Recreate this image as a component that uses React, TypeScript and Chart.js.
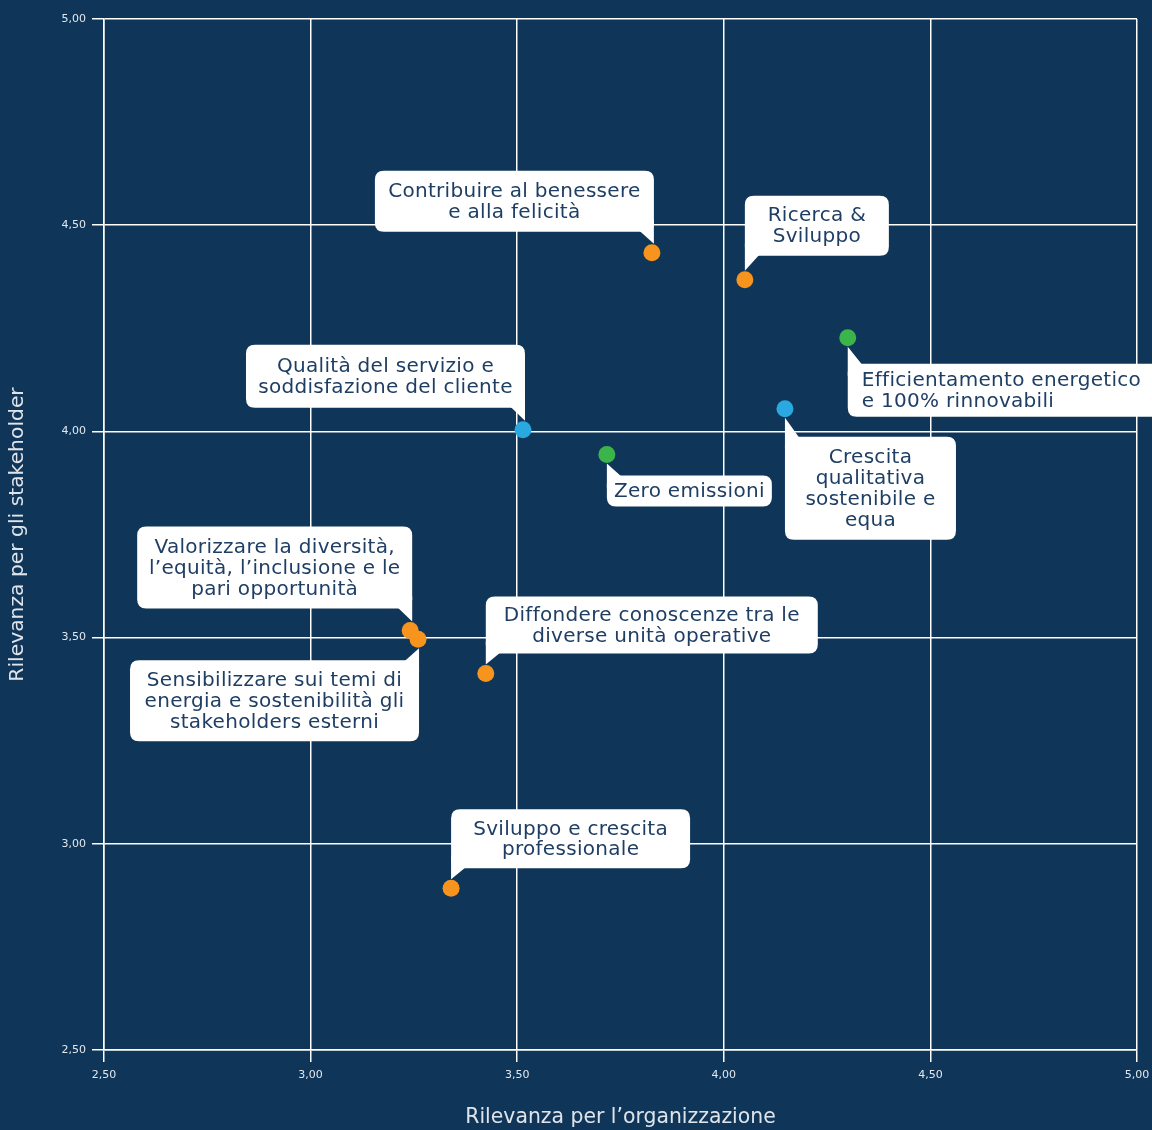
import React, { useEffect, useRef } from "react";
import { Chart, registerables } from "chart.js";

Chart.register(...registerables);

// ---- data ----
const topics = [
  "Contribuire al benessere e alla felicità",
  "Ricerca & Sviluppo",
  "Efficientamento energetico e 100% rinnovabili",
  "Crescita qualitativa sostenibile e equa",
  "Qualità del servizio e soddisfazione del cliente",
  "Zero emissioni",
  "Valorizzare la diversità, l'equità, l'inclusione e le pari opportunità",
  "Sensibilizzare sui temi di energia e sostenibilità gli stakeholders esterni",
  "Diffondere conoscenze tra le diverse unità operative",
  "Sviluppo e crescita professionale",
];
const orgRelevance = [3.826, 4.051, 4.3, 4.148, 3.514, 3.717, 3.241, 3.26, 3.424, 3.34];
const stakeholderRelevance = [4.433, 4.368, 4.227, 4.055, 4.004, 3.944, 3.517, 3.496, 3.413, 2.892];
const groups = ["social", "social", "environment", "economic", "economic", "environment", "social", "social", "social", "social"];
const groupNames = ["social", "environment", "economic"];
const labelLines = [
  ["Contribuire al benessere", "e alla felicità"],
  ["Ricerca &", "Sviluppo"],
  ["Efficientamento energetico", "e 100% rinnovabili"],
  ["Crescita", "qualitativa", "sostenibile e", "equa"],
  ["Qualità del servizio e", "soddisfazione del cliente"],
  ["Zero emissioni"],
  ["Valorizzare la diversità,", "l\u2019equità, l\u2019inclusione e le", "pari opportunità"],
  ["Sensibilizzare sui temi di", "energia e sostenibilità gli", "stakeholders esterni"],
  ["Diffondere conoscenze tra le", "diverse unità operative"],
  ["Sviluppo e crescita", "professionale"],
];
const axisTickValues = [2.5, 3.0, 3.5, 4.0, 4.5, 5.0];
const xTitle = "Rilevanza per l\u2019organizzazione";
const yTitle = "Rilevanza per gli stakeholder";

// ---- styles / callout layout ----
const groupColors: Record<string, string> = {
  social: "#f7941d",
  environment: "#3bb54a",
  economic: "#29a9e0",
};
// corner of the box where the tail sits, box width, box height, gap from point centre to box edge, text alignment
const calloutLayout: [string, number, number, number, string][] = [
  ["br", 279, 61, 21, "center"],
  ["bl", 144, 60, 24, "center"],
  ["tl", 330, 53, 26, "left"],
  ["tl", 171, 103, 28, "center"],
  ["br", 279, 63, 22, "center"],
  ["tl", 165, 31, 21, "center"],
  ["br", 275, 82, 22, "center"],
  ["tr", 289, 81, 21, "center"],
  ["bl", 332, 57, 20, "center"],
  ["bl", 239, 59, 20, "center"],
];
const cornerOffsetX: Record<string, number> = { br: 2, bl: 0, tl: 0, tr: 1 };

const BG = "#0f3559";
const FONT = "'DejaVu Sans', sans-serif";

const fmt = (v: number) => v.toFixed(2).replace(".", ",");

function roundRect(ctx: CanvasRenderingContext2D, x: number, y: number, w: number, h: number, r: number) {
  ctx.beginPath();
  ctx.moveTo(x + r, y);
  ctx.lineTo(x + w - r, y);
  ctx.quadraticCurveTo(x + w, y, x + w, y + r);
  ctx.lineTo(x + w, y + h - r);
  ctx.quadraticCurveTo(x + w, y + h, x + w - r, y + h);
  ctx.lineTo(x + r, y + h);
  ctx.quadraticCurveTo(x, y + h, x, y + h - r);
  ctx.lineTo(x, y + r);
  ctx.quadraticCurveTo(x, y, x + r, y);
  ctx.closePath();
}

const calloutPlugin = {
  id: "callouts",
  afterDatasetsDraw(chart: any) {
    const ctx: any = chart.ctx;
    const xs = chart.scales.x;
    const ys = chart.scales.y;
    ctx.save();
    topics.forEach((_, i) => {
      const px = xs.getPixelForValue(orgRelevance[i]);
      const py = ys.getPixelForValue(stakeholderRelevance[i]);
      const [corner, w, h, gap, align] = calloutLayout[i];
      const dx = cornerOffsetX[corner];
      const above = corner[0] === "b";
      const right = corner[1] === "r";
      const cx = px + dx; // x of the tail's vertical edge
      const bx = right ? cx - w : cx;
      const by = above ? py - gap - h : py + gap;
      const tipY = above ? py - 9 : py + 9;
      const edgeY = above ? by + h : by;
      ctx.fillStyle = "#ffffff";
      roundRect(ctx, bx, by, w, h, 9);
      ctx.fill();
      // tail
      ctx.beginPath();
      const inner = above ? edgeY - 12 : edgeY + 12;
      const baseX = right ? cx - 14 : cx + 14;
      ctx.moveTo(cx, inner);
      ctx.lineTo(cx, tipY);
      ctx.lineTo(baseX, edgeY + (above ? -0.5 : 0.5));
      ctx.lineTo(baseX + (right ? -2 : 2), inner);
      ctx.closePath();
      ctx.fill();
      // text
      const lines = labelLines[i];
      const lh = 20.8;
      ctx.fillStyle = "#1f3e64";
      ctx.font = `20px ${FONT}`;
      if ("letterSpacing" in ctx) ctx.letterSpacing = "0.3px";
      ctx.textBaseline = "middle";
      const startY = by + h / 2 - ((lines.length - 1) * lh) / 2 + 1;
      lines.forEach((ln, k) => {
        if (align === "left") {
          ctx.textAlign = "left";
          ctx.fillText(ln, bx + 14, startY + k * lh);
        } else {
          ctx.textAlign = "center";
          ctx.fillText(ln, bx + w / 2, startY + k * lh);
        }
      });
      if ("letterSpacing" in ctx) ctx.letterSpacing = "0px";
    });
    ctx.restore();
  },
};

const bgPlugin = {
  id: "bg",
  beforeDraw(chart: any) {
    const ctx = chart.ctx;
    ctx.save();
    ctx.fillStyle = BG;
    ctx.fillRect(0, 0, chart.width, chart.height);
    ctx.restore();
  },
};

export default function App() {
  const ref = useRef<HTMLCanvasElement | null>(null);
  useEffect(() => {
    if (!ref.current) return;
    const datasets = groupNames.map((g) => ({
      label: g,
      data: topics
        .map((_, i) => ({ x: orgRelevance[i], y: stakeholderRelevance[i], g: groups[i] }))
        .filter((p) => p.g === g),
      backgroundColor: groupColors[g],
      borderWidth: 0,
      pointRadius: 8.5,
      pointHoverRadius: 8.5,
    }));
    const chart = new Chart(ref.current, {
      type: "scatter",
      data: { datasets },
      plugins: [bgPlugin, calloutPlugin],
      options: {
        responsive: false,
        animation: false,
        layout: { padding: { top: 19, right: 15, left: 0, bottom: 0 } },
        plugins: { legend: { display: false }, tooltip: { enabled: false } },
        scales: {
          x: {
            type: "linear",
            min: 2.5,
            max: 5,
            afterBuildTicks: (s: any) => {
              s.ticks = axisTickValues.map((v) => ({ value: v }));
            },
            afterFit: (s: any) => {
              s.height = 80;
              s.paddingLeft = 0;
              s.paddingRight = 0;
            },
            ticks: {
              color: "#e3e8ee",
              font: { size: 11, family: FONT },
              padding: 7,
              callback: (v: any) => fmt(Number(v)),
            },
            grid: { color: "#ffffff", lineWidth: 1.5, tickLength: 12 },
            border: { color: "#ffffff", width: 1.5 },
            title: {
              display: true,
              text: xTitle,
              color: "#dfe4ea",
              font: { size: 20.4, family: FONT },
              padding: { top: 0, bottom: 0 },
            },
          },
          y: {
            type: "linear",
            min: 2.5,
            max: 5,
            afterBuildTicks: (s: any) => {
              s.ticks = axisTickValues.map((v) => ({ value: v }));
            },
            afterFit: (s: any) => {
              s.width = 104;
            },
            ticks: {
              color: "#e3e8ee",
              font: { size: 11, family: FONT },
              padding: 6,
              callback: (v: any) => fmt(Number(v)),
            },
            grid: { color: "#ffffff", lineWidth: 1.5, tickLength: 12 },
            border: { color: "#ffffff", width: 1.5 },
            title: {
              display: true,
              text: yTitle,
              color: "#dfe4ea",
              font: { size: 20.3, family: FONT },
              padding: { top: 6, bottom: 0 },
            },
          },
        },
      },
    });
    return () => chart.destroy();
  }, []);
  return (
    <div style={{ position: "absolute", left: 0, top: 0, width: 1152, height: 1130, background: BG }}>
      <canvas ref={ref} width={1152} height={1130} style={{ display: "block" }} />
    </div>
  );
}
